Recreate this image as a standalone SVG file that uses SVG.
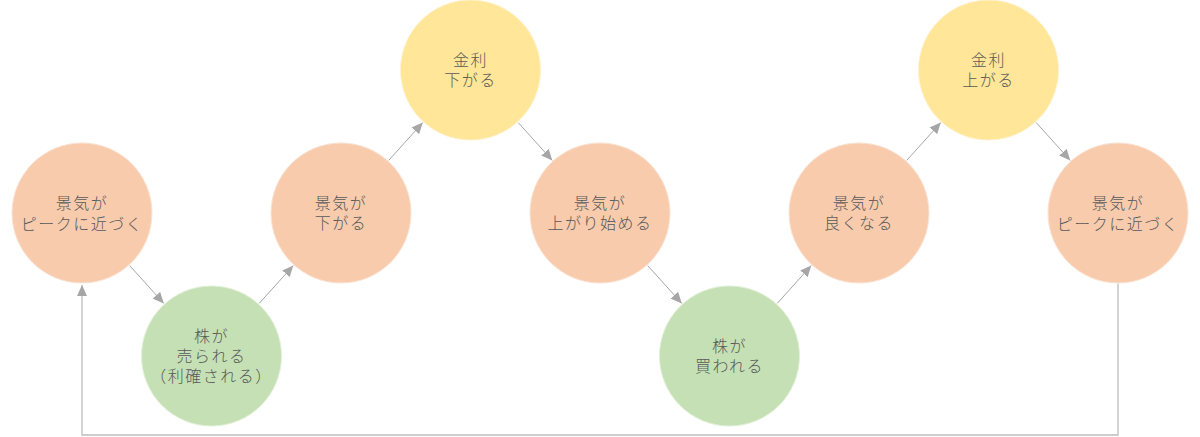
<svg xmlns="http://www.w3.org/2000/svg" width="1200" height="437" viewBox="0 0 1200 437">
<style>
.peach{fill:#F8CBAD;stroke:#FBE3D3;stroke-width:1}
.green{fill:#C5E0B4;stroke:#E2F0D9;stroke-width:1}
.yellow{fill:#FFE699;stroke:#FFF2CC;stroke-width:1}
text{font-family:"Noto Sans CJK JP","Noto Sans",sans-serif;font-size:16px;font-weight:300;fill:#595959;text-anchor:middle;letter-spacing:1.5px}
.conn{fill:none;stroke:#A6A6A6;stroke-width:1}
.loop{fill:none;stroke:#BFBFBF;stroke-width:1.3}
</style>
<defs>
<marker id="arr" markerUnits="userSpaceOnUse" markerWidth="12" markerHeight="10" refX="11" refY="5" orient="auto">
<path d="M0,0 L11,5 L0,10 Z" fill="#A6A6A6"/>
</marker>
</defs>
<rect width="1200" height="437" fill="#FFFFFF"/>
<g id="connectors">
<line class="conn" x1="129.7" y1="265.6" x2="163.8" y2="303.4" marker-end="url(#arr)"/>
<line class="conn" x1="259.2" y1="303.4" x2="293.3" y2="265.6" marker-end="url(#arr)"/>
<line class="conn" x1="388.7" y1="160.4" x2="422.8" y2="122.6" marker-end="url(#arr)"/>
<line class="conn" x1="518.2" y1="122.6" x2="552.3" y2="160.4" marker-end="url(#arr)"/>
<line class="conn" x1="647.7" y1="265.6" x2="681.8" y2="303.4" marker-end="url(#arr)"/>
<line class="conn" x1="777.2" y1="303.4" x2="811.3" y2="265.6" marker-end="url(#arr)"/>
<line class="conn" x1="906.7" y1="160.4" x2="940.8" y2="122.6" marker-end="url(#arr)"/>
<line class="conn" x1="1036.2" y1="122.6" x2="1070.3" y2="160.4" marker-end="url(#arr)"/>
<path class="loop" d="M1118,283.5 V435 H82 V285" marker-end="url(#arr)"/>
</g>
<g id="n1">
<circle class="peach" cx="82" cy="213" r="70"/>
<text x="82" y="209">景気が<tspan x="82" dy="21">ピークに近づく</tspan></text>
</g>
<g id="n2">
<circle class="green" cx="211.5" cy="356" r="70"/>
<text x="211.5" y="342">株が<tspan x="211.5" dy="20">売られる</tspan><tspan x="211.5" dy="20">（利確される）</tspan></text>
</g>
<g id="n3">
<circle class="peach" cx="341" cy="213" r="70"/>
<text x="341" y="209">景気が<tspan x="341" dy="20">下がる</tspan></text>
</g>
<g id="n4">
<circle class="yellow" cx="470.5" cy="70" r="70"/>
<text x="470.5" y="66">金利<tspan x="470.5" dy="20">下がる</tspan></text>
</g>
<g id="n5">
<circle class="peach" cx="600" cy="213" r="70"/>
<text x="600" y="209">景気が<tspan x="600" dy="20">上がり始める</tspan></text>
</g>
<g id="n6">
<circle class="green" cx="729.5" cy="356" r="70"/>
<text x="729.5" y="352">株が<tspan x="729.5" dy="20">買われる</tspan></text>
</g>
<g id="n7">
<circle class="peach" cx="859" cy="213" r="70"/>
<text x="859" y="209">景気が<tspan x="859" dy="20">良くなる</tspan></text>
</g>
<g id="n8">
<circle class="yellow" cx="988.5" cy="70" r="70"/>
<text x="988.5" y="66">金利<tspan x="988.5" dy="20">上がる</tspan></text>
</g>
<g id="n9">
<circle class="peach" cx="1118" cy="213" r="70"/>
<text x="1118" y="209">景気が<tspan x="1118" dy="21">ピークに近づく</tspan></text>
</g>
</svg>
